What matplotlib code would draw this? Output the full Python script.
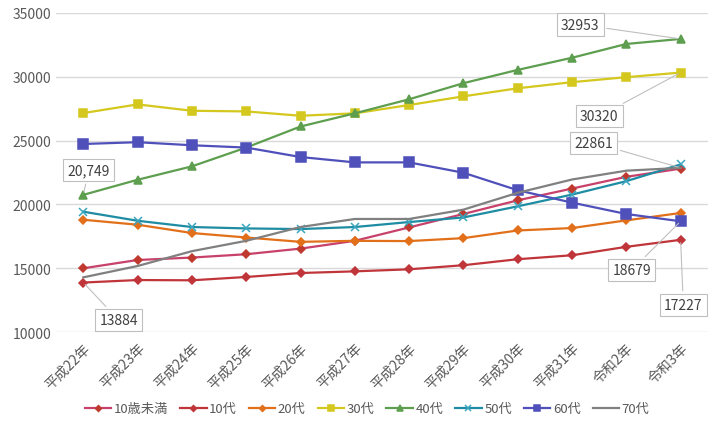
import matplotlib.pyplot as plt

plt.rcParams['font.family'] = ['Noto Sans CJK JP', 'DejaVu Sans']

years = ['平成22年', '平成23年', '平成24年', '平成25年', '平成26年', '平成27年',
         '平成28年', '平成29年', '平成30年', '平成31年', '令和2年', '令和3年']

under10 = [15000, 15650, 15840, 16100, 16540, 17150, 18200, 19250, 20320, 21240, 22160, 22800]
teens = [13884, 14080, 14060, 14320, 14630, 14760, 14920, 15240, 15710, 16020, 16680, 17227]
twenties = [18800, 18410, 17760, 17410, 17070, 17150, 17130, 17360, 17960, 18150, 18750, 19330]
thirties = [27150, 27830, 27330, 27280, 26940, 27130, 27780, 28460, 29090, 29570, 29960, 30320]
forties = [20749, 21930, 22980, 24450, 26100, 27130, 28230, 29490, 30530, 31480, 32560, 32953]
fifties = [19430, 18720, 18230, 18120, 18070, 18230, 18620, 18980, 19850, 20770, 21820, 23130]
sixties = [24730, 24870, 24630, 24450, 23710, 23290, 23290, 22480, 21110, 20140, 19250, 18679]
seventies = [14290, 15180, 16340, 17150, 18230, 18860, 18860, 19590, 20910, 21950, 22640, 22861]

series = [
    ('10歳未満', under10, '#C8416B', '#C0392F', 'D', 4),
    ('10代', teens, '#C0353A', '#C0353A', 'D', 4),
    ('20代', twenties, '#E2701A', '#E2701A', 'D', 4),
    ('30代', thirties, '#D4C81E', '#D4C81E', 's', 6),
    ('40代', forties, '#5E9E4F', '#5E9E4F', '^', 6),
    ('50代', fifties, '#1E8CA3', '#3AA6BE', 'x', 6),
    ('60代', sixties, '#5050BB', '#5050BB', 's', 6.5),
    ('70代', seventies, '#808080', '#808080', '', 0),
]

fig = plt.figure(figsize=(7.2, 4.31), dpi=100)
ax = fig.add_axes([0.078, 0.227, 0.905, 0.741])

x = list(range(len(years)))
for name, vals, lc, mc, mk, ms in series:
    ax.plot(x, vals, color=lc, linewidth=1.6, marker=mk if mk else None,
            markersize=ms, markerfacecolor=mc, markeredgecolor=mc,
            markeredgewidth=1.1, label=name)

ax.set_xlim(-0.5, 11.5)
ax.set_ylim(10000, 35000)
ax.set_yticks([10000, 15000, 20000, 25000, 30000, 35000])
ax.set_xticks(x)
ax.set_xticklabels(years, rotation=45, ha='right', rotation_mode='anchor')
ax.tick_params(axis='both', length=0, colors='#595959', labelsize=10)
ax.tick_params(axis='x', pad=6)
ax.grid(axis='y', color='#D9D9D9', linewidth=1)
ax.set_axisbelow(True)
for s in ax.spines.values():
    s.set_visible(False)

# データラベル(吹き出し)
box = dict(boxstyle='square,pad=0.3', fc='white', ec='#BFBFBF', lw=0.8)
arrow = dict(arrowstyle='-', color='#BFBFBF', lw=0.8)
notes = [
    ('20,749', 0, forties[0], 0.1, 22700),
    ('13884', 0, teens[0], 0.65, 10950),
    ('32953', 11, forties[11], 9.15, 34080),
    ('30320', 11, thirties[11], 9.5, 26900),
    ('22861', 11, seventies[11], 9.4, 24830),
    ('18679', 11, sixties[11], 10.1, 14860),
    ('17227', 11, teens[11], 11.05, 12120),
]
for txt, xi, yv, tx, ty in notes:
    ax.annotate(txt, xy=(xi, yv), xytext=(tx, ty), ha='center', va='center',
                fontsize=10, color='#404040', bbox=box, arrowprops=arrow,
                annotation_clip=False)

fig.legend(loc='center', bbox_to_anchor=(0.51, 0.049), ncol=8, frameon=False,
           fontsize=9.5, handlelength=2.0, handletextpad=0.2, columnspacing=0.9,
           markerscale=0.75, labelcolor='#595959')

fig.savefig('out.png', dpi=100)
